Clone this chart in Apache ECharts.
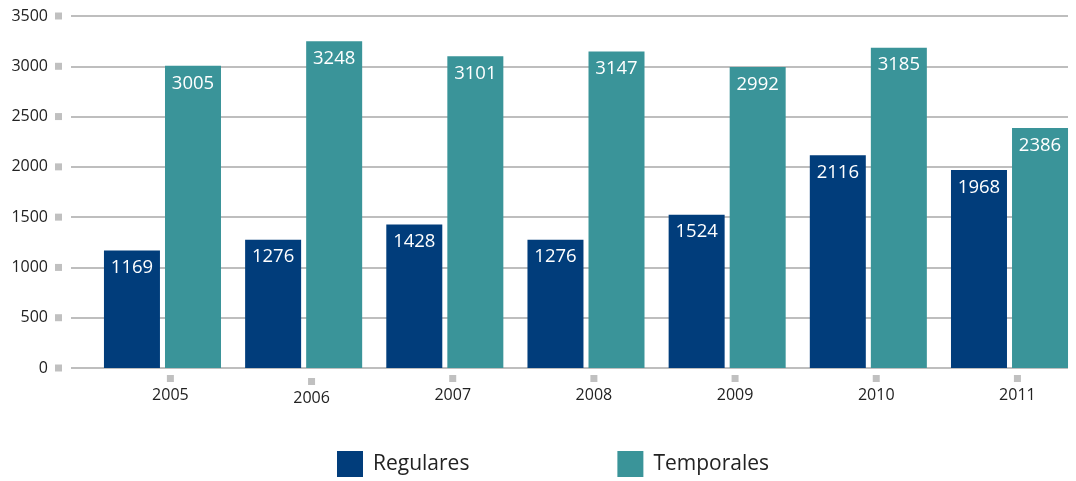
<!DOCTYPE html>
<html>
<head>
<meta charset="utf-8">
<script src="https://cdn.jsdelivr.net/npm/echarts@6/dist/echarts.min.js"></script>
<style>html,body{margin:0;padding:0;background:#fff;}#c{width:1076px;height:481px;}</style>
</head>
<body>
<div id="c"></div>
<script>
var years = ['2005','2006','2007','2008','2009','2010','2011'];
var regulares = [1169,1276,1428,1276,1524,2116,1968];
var temporales = [3005,3248,3101,3147,2992,3185,2386];
var yTicks = [0,500,1000,1500,2000,2500,3000,3500];

var FONT = '"Open Sans", sans-serif';
var chart = echarts.init(document.getElementById('c'));
var barLabel = {show:true, position:'insideTop', distance:8, color:'#fff', fontSize:18.5, fontFamily:FONT};
chart.setOption({
  animation:false,
  textStyle:{fontFamily:FONT},
  legend:{
    left:332, top:446, itemWidth:26, itemHeight:26, itemGap:148, icon:'rect',
    textStyle:{fontSize:21, color:'#222', fontFamily:FONT, padding:[0,0,0,5]},
    data:['Regulares','Temporales']
  },
  grid:[
    {left:87.8, right:0, top:16, bottom:113},
    {left:71, right:8, top:16, bottom:113}
  ],
  xAxis:[
    {type:'category', gridIndex:0, data:years,
     axisLine:{show:false}, axisTick:{show:false}, splitLine:{show:false},
     axisLabel:{margin:7, padding:[0,0,0,24],
       formatter:function(v,i){ return (i===1?'{s|}\n':'')+'{m|}\n{t|'+v+'}'; },
       rich:{
         s:{height:3, lineHeight:3},
         m:{width:7, height:7, lineHeight:7, backgroundColor:'#c0c0c0'},
         t:{fontSize:16, lineHeight:26, color:'#222', fontFamily:FONT}
       }}},
    {type:'value', gridIndex:1, show:false}
  ],
  yAxis:[
    {type:'value', gridIndex:0, min:0, max:3500, interval:500, show:false},
    {type:'value', gridIndex:1, min:0, max:3500, interval:500,
     axisLine:{show:false}, axisTick:{show:false},
     splitLine:{show:true, lineStyle:{color:'#a9a9a9', width:1.5}},
     axisLabel:{margin:9,
       formatter:function(v){ return '{v|'+v+'}{g|}{m|}'; },
       rich:{
         v:{fontSize:16, color:'#222', fontFamily:FONT},
         g:{width:7},
         m:{width:7, height:7, backgroundColor:'#c0c0c0'}
       }}}
  ],
  series:[
    {name:'spacer', type:'bar', xAxisIndex:0, yAxisIndex:0, data:years.map(function(){return 0;}),
     barWidth:7.5, barGap:'9%', silent:true, itemStyle:{color:'rgba(0,0,0,0)'}, label:{show:false}},
    {name:'Regulares', type:'bar', xAxisIndex:0, yAxisIndex:0, data:regulares,
     barWidth:56, barGap:'9%', itemStyle:{color:'#013d7b'}, label:barLabel},
    {name:'Temporales', type:'bar', xAxisIndex:0, yAxisIndex:0, data:temporales,
     barWidth:56, barGap:'9%', itemStyle:{color:'#3a9499'}, label:barLabel}
  ]
});
</script>
</body>
</html>
